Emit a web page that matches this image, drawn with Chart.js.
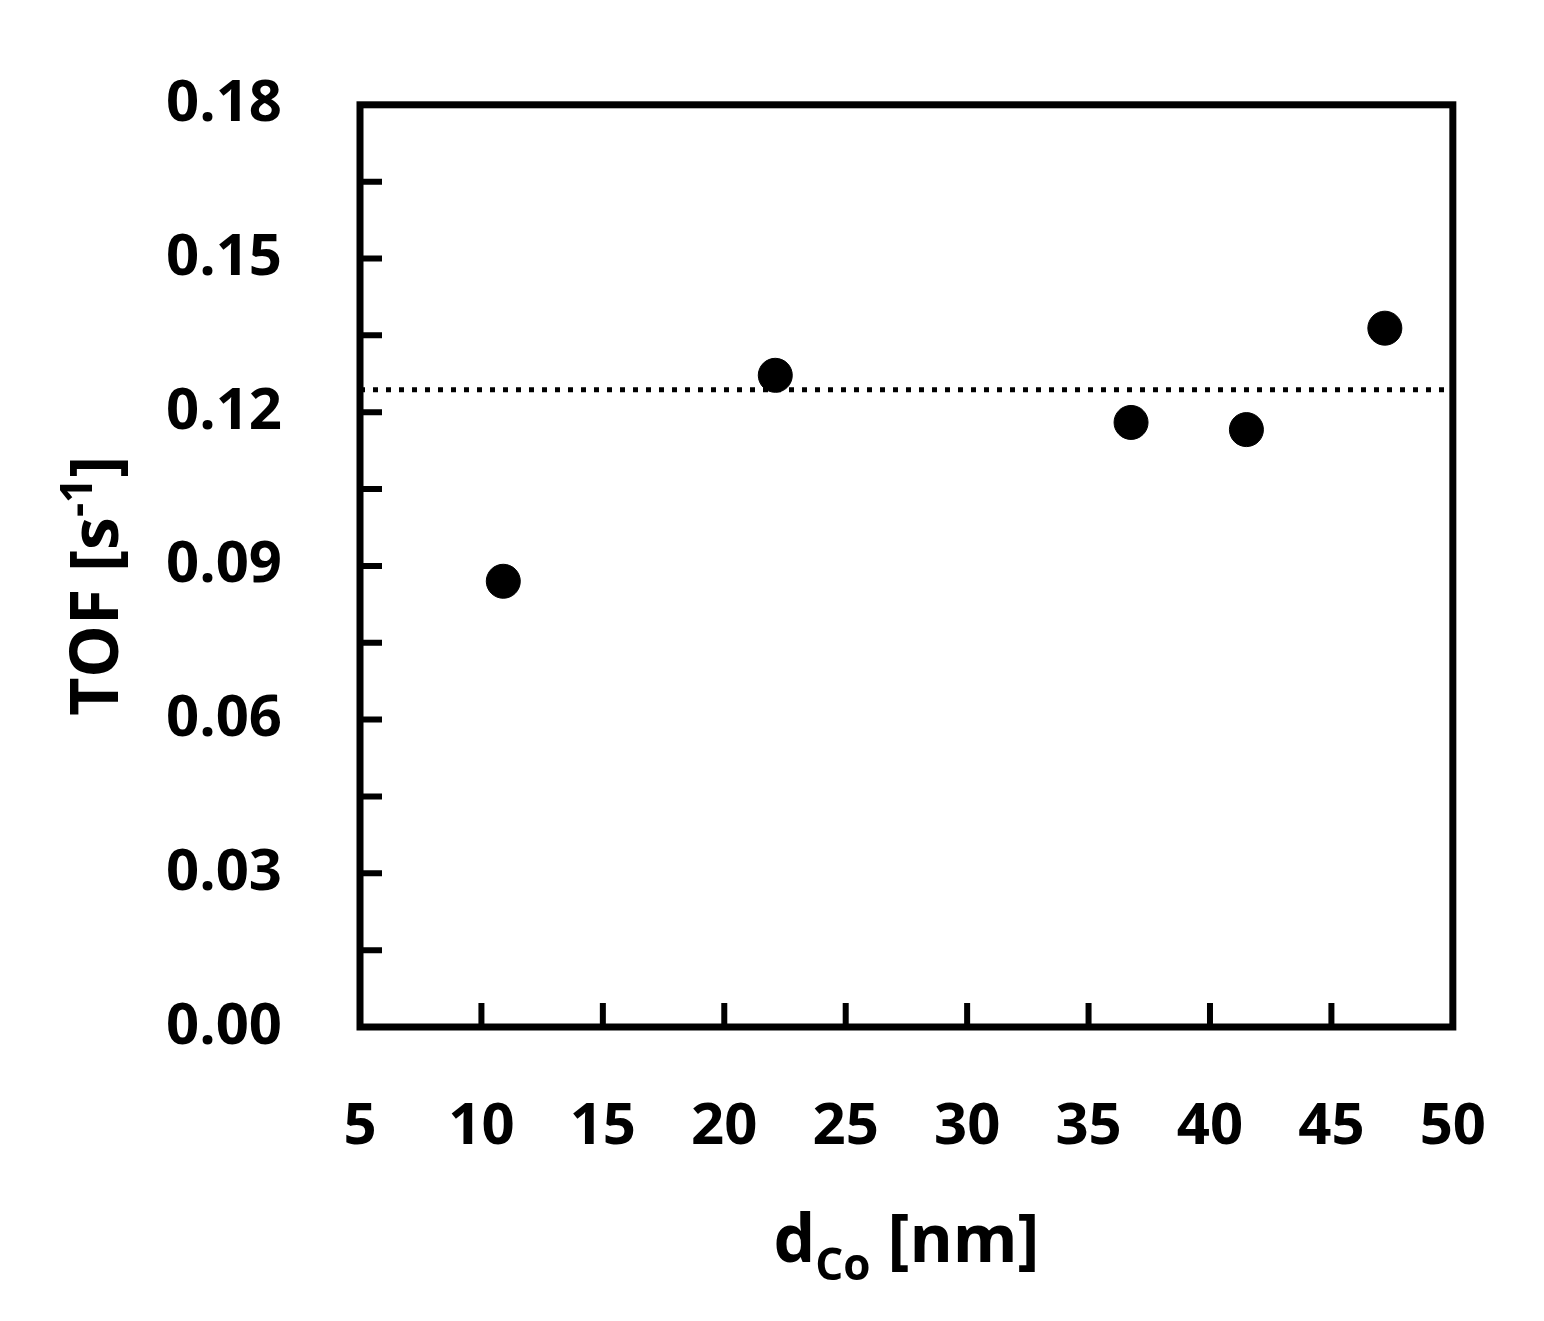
<!DOCTYPE html>
<html>
<head>
<meta charset="utf-8">
<script src="https://cdn.jsdelivr.net/npm/chart.js@4"></script>
<style>
  body { margin: 0; background: #fff; }
  #wrap { width: 1544px; height: 1321px; }
</style>
</head>
<body>
<div id="wrap"><canvas id="chart"></canvas></div>
<script>
// データ
const sizeNm = [10.9, 22.1, 36.75, 41.5, 47.2];
const tofValues = [0.087, 0.1272, 0.118, 0.1166, 0.1364];
const meanTof = 0.1244;
const xRange = [5, 50];
const yRange = [0, 0.18];
const xTickMarks = [10, 15, 20, 25, 30, 35, 40, 45];

const FONT = "'Open Sans', 'DejaVu Sans', sans-serif";

// 枠と目盛りと軸タイトルを描く
const framePlugin = {
  id: "frame",
  afterDraw(chart) {
    const { ctx, chartArea: a, scales } = chart;
    ctx.save();
    ctx.strokeStyle = "#000";
    ctx.lineWidth = 7;
    ctx.strokeRect(a.left, a.top, a.right - a.left, a.bottom - a.top);
    ctx.lineWidth = 6;
    ctx.beginPath();
    for (const v of xTickMarks) {
      const x = scales.x.getPixelForValue(v);
      ctx.moveTo(x, a.bottom);
      ctx.lineTo(x, a.bottom - 24);
    }
    for (let i = 1; i < 12; i++) {
      const y = scales.y.getPixelForValue(i * 0.015);
      ctx.moveTo(a.left, y);
      ctx.lineTo(a.left + 22, y);
    }
    ctx.stroke();

    ctx.fillStyle = "#000";
    const big = "bold 66px " + FONT, small = "bold 44px " + FONT;
    // x軸タイトル
    ctx.font = big;
    ctx.textBaseline = "alphabetic";
    const cx = (a.left + a.right) / 2;
    const p1 = "d", sub = "Co", p2 = " [nm]";
    const w1 = ctx.measureText(p1).width;
    const w3 = ctx.measureText(p2).width;
    ctx.font = small;
    const w2 = ctx.measureText(sub).width;
    let x0 = cx - (w1 + w2 + w3) / 2;
    const by = 1262;
    ctx.font = big;
    ctx.fillText(p1, x0, by);
    ctx.font = small;
    ctx.fillText(sub, x0 + w1, by + 18);
    ctx.font = big;
    ctx.fillText(p2, x0 + w1 + w2, by);

    // y軸タイトル
    ctx.translate(118, (a.top + a.bottom) / 2 + 20);
    ctx.rotate(-Math.PI / 2);
    const q1 = "TOF [s", sup = "-1", q2 = "]";
    const v1 = ctx.measureText(q1).width;
    const v3 = ctx.measureText(q2).width;
    ctx.font = small;
    const v2 = ctx.measureText(sup).width;
    x0 = -(v1 + v2 + v3) / 2;
    ctx.font = big;
    ctx.fillText(q1, x0, 0);
    ctx.font = small;
    ctx.fillText(sup, x0 + v1, -26);
    ctx.font = big;
    ctx.fillText(q2, x0 + v1 + v2, 0);
    ctx.restore();
  },
};

const points = sizeNm.map((x, i) => ({ x: x, y: tofValues[i] }));

new Chart(document.getElementById("chart"), {
  type: "scatter",
  data: {
    datasets: [
      {
        data: points,
        pointRadius: 17,
        pointBackgroundColor: "#000",
        pointBorderColor: "#000",
      },
      {
        type: "line",
        data: [{ x: xRange[0], y: meanTof }, { x: xRange[1], y: meanTof }],
        borderColor: "#000",
        borderWidth: 5,
        borderDash: [5, 8],
        pointRadius: 0,
      },
    ],
  },
  options: {
    responsive: true,
    maintainAspectRatio: false,
    animation: false,
    layout: { padding: { top: 32, right: 28, left: 0, bottom: 0 } },
    plugins: { legend: { display: false }, tooltip: { enabled: false } },
    scales: {
      x: {
        type: "linear",
        min: xRange[0],
        max: xRange[1],
        grid: { display: false },
        border: { display: false },
        afterFit: (s) => { s.height = 294; },
        ticks: {
          stepSize: 5,
          padding: 58,
          color: "#000",
          font: { family: FONT, size: 58, weight: "bold" },
        },
      },
      y: {
        min: yRange[0],
        max: yRange[1],
        grid: { display: false },
        border: { display: false },
        afterFit: (s) => { s.width = 360; },
        ticks: {
          stepSize: 0.03,
          padding: 70,
          color: "#000",
          font: { family: FONT, size: 58, weight: "bold" },
          callback: (v) => v.toFixed(2),
        },
      },
    },
  },
  plugins: [framePlugin],
});
</script>
</body>
</html>
